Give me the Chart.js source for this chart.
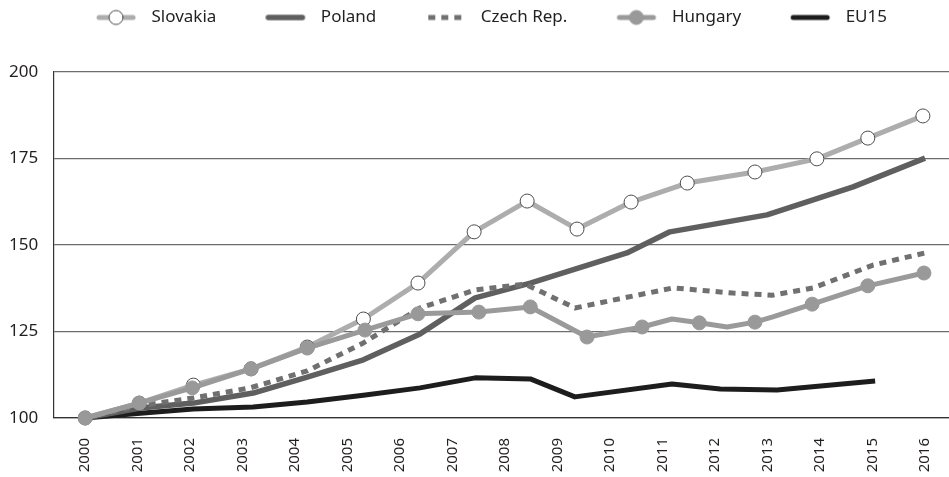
<!DOCTYPE html>
<html lang="en">
<head>
    <meta charset="UTF-8">
    <title>Slovakia, Poland, Czech Rep., Hungary, EU15 (2000 = 100)</title>
    <script src="https://cdn.jsdelivr.net/npm/chart.js"></script>
    <style>
        html, body { margin: 0; padding: 0; background: #fff; }
        .chart-box { width: 949px; height: 477px; }
    </style>
</head>
<body>
    <div class="chart-box">
        <canvas id="indexChart"></canvas>
    </div>

    <script>
        // Axis labels
        const years = [2000, 2001, 2002, 2003, 2004, 2005, 2006, 2007, 2008,
                       2009, 2010, 2011, 2012, 2013, 2014, 2015, 2016];
        const yTicks = [100, 125, 150, 175, 200];

        // Series: x = position on the year axis, y = index (2000 = 100)
        const slovakiaX = [2000, 2001.03, 2002.06, 2003.16, 2004.23, 2005.3, 2006.34, 2007.41,
                           2008.42, 2009.37, 2010.4, 2011.47, 2012.76, 2013.94, 2014.91, 2015.96];
        const slovakiaY = [100, 104.3, 109.5, 114.2, 120.5, 128.6, 139, 153.8,
                           162.7, 154.6, 162.4, 167.9, 171.1, 174.9, 180.9, 187.3];

        const polandX = [2000, 2001.05, 2002.06, 2003.2, 2004.23, 2005.3, 2006.38, 2007.43,
                         2008.48, 2010.32, 2011.14, 2012.99, 2014.63, 2016];
        const polandY = [100, 102.9, 104.3, 107.2, 111.8, 116.8, 124.3, 134.7,
                         139, 147.7, 153.8, 158.7, 166.8, 175.1];

        const czechX = [2000, 2001.03, 2002.06, 2003.14, 2004.23, 2005.3, 2006.38, 2007.43,
                        2008.38, 2009.33, 2011.2, 2012.34, 2013.1, 2013.87, 2015.01, 2016];
        const czechY = [100, 103.5, 105.8, 108.7, 113.6, 121.7, 131.8, 137,
                        138.7, 131.8, 137.6, 136.1, 135.5, 137.6, 144.2, 147.7];

        const hungaryX = [2000, 2001.03, 2002.04, 2003.16, 2004.23, 2005.33, 2006.34, 2007.5,
                          2008.48, 2009.56, 2010.61, 2011.18, 2011.7, 2012.23, 2012.76, 2013.1,
                          2013.85, 2014.91, 2015.98];
        const hungaryY = [100, 104.3, 108.7, 114.2, 120.2, 125.4, 130.1, 130.6,
                          132.1, 123.4, 126.3, 128.6, 127.5, 126.3, 127.7, 129.2,
                          132.9, 138.2, 141.9];
        // which Hungary points carry a marker
        const hungaryMarked = [1, 1, 1, 1, 1, 1, 1, 1, 1, 1, 1, 0, 1, 0, 1, 0, 1, 1, 1];

        const eu15X = [2000, 2001.05, 2002.06, 2003.2, 2004.23, 2005.3, 2006.38, 2007.43,
                       2008.48, 2009.33, 2011.18, 2012.1, 2013.18, 2015.05];
        const eu15Y = [100, 101.4, 102.6, 103.2, 104.6, 106.6, 108.7, 111.6,
                       111.3, 106.1, 109.8, 108.4, 108.1, 110.7];

        const legendOrder = ['Slovakia', 'Poland', 'Czech Rep.', 'Hungary', 'EU15'];

        function toPoints(xs, ys) {
            return xs.map((x, i) => ({ x: x, y: ys[i] }));
        }

        const textColor = '#231f20';
        const gridColor = '#6d6d6d';

        // order: lower number is drawn on top
        const datasets = [
            {
                label: 'Slovakia',
                data: toPoints(slovakiaX, slovakiaY),
                borderColor: '#adadad',
                borderWidth: 5,
                pointRadius: 7,
                pointBackgroundColor: '#ffffff',
                pointBorderColor: '#4d4d4d',
                pointBorderWidth: 1,
                legendMarker: true,
                order: 1
            },
            {
                label: 'Poland',
                data: toPoints(polandX, polandY),
                borderColor: '#5f5f5f',
                borderWidth: 5.5,
                pointRadius: 0,
                order: 3
            },
            {
                label: 'Czech Rep.',
                data: toPoints(czechX, czechY),
                borderColor: '#707070',
                borderWidth: 5,
                borderDash: [7, 6],
                pointRadius: 0,
                order: 2
            },
            {
                label: 'Hungary',
                data: toPoints(hungaryX, hungaryY),
                borderColor: '#9a9a9a',
                borderWidth: 5,
                pointRadius: hungaryMarked.map(m => m ? 7 : 0),
                pointBackgroundColor: '#999999',
                pointBorderColor: '#999999',
                pointBorderWidth: 1,
                legendMarker: true,
                order: 0
            },
            {
                label: 'EU15',
                data: toPoints(eu15X, eu15Y),
                borderColor: '#1d1d1d',
                borderWidth: 5,
                pointRadius: 0,
                order: 4
            }
        ];

        // Legend symbol: short line (solid or dashed), with a circle for marked series
        function legendSymbol(ds) {
            const c = document.createElement('canvas');
            c.width = 87;
            c.height = 18;
            const g = c.getContext('2d');
            const x0 = 40, x1 = 80, cy = 9;
            g.strokeStyle = ds.borderColor;
            g.lineWidth = ds.borderWidth;
            if (ds.borderDash) {
                g.setLineDash(ds.borderDash);
                g.lineCap = 'butt';
            } else {
                g.lineCap = 'round';
            }
            g.beginPath(); g.moveTo(x0 + 3, cy); g.lineTo(x1 - 3, cy); g.stroke();
            if (ds.legendMarker) {
                g.setLineDash([]);
                g.beginPath();
                g.arc((x0 + x1) / 2, cy, 7, 0, Math.PI * 2);
                g.fillStyle = ds.pointBackgroundColor;
                g.fill();
                g.lineWidth = 1;
                g.strokeStyle = ds.pointBorderColor;
                g.stroke();
            }
            return c;
        }

        // extra room between legend and plot
        const legendGap = {
            id: 'legendGap',
            beforeInit(chart) {
                const fit = chart.legend.fit;
                chart.legend.fit = function () {
                    fit.bind(chart.legend)();
                    this.height += 36;
                };
            }
        };

        const ctx = document.getElementById('indexChart').getContext('2d');
        new Chart(ctx, {
            type: 'line',
            data: { datasets: datasets },
            plugins: [legendGap],
            options: {
                responsive: true,
                maintainAspectRatio: false,
                animation: false,
                events: [],
                layout: { autoPadding: false, padding: { top: 0, left: -6, right: 0, bottom: 4.7 } },
                elements: { line: { tension: 0, borderJoinStyle: 'round', fill: false } },
                datasets: { line: { clip: false } },
                plugins: {
                    tooltip: { enabled: false },
                    legend: {
                        position: 'top',
                        labels: {
                            usePointStyle: true,
                            pointStyleWidth: 87,
                            boxHeight: 17,
                            padding: 9,
                            color: textColor,
                            font: { family: "'Noto Sans', sans-serif", size: 17 },
                            generateLabels(chart) {
                                return legendOrder.map(name => {
                                    const i = chart.data.datasets.findIndex(d => d.label === name);
                                    return {
                                        text: name,
                                        datasetIndex: i,
                                        pointStyle: legendSymbol(chart.data.datasets[i]),
                                        fillStyle: 'rgba(0,0,0,0)',
                                        strokeStyle: 'rgba(0,0,0,0)',
                                        lineWidth: 0,
                                        hidden: false,
                                        fontColor: textColor
                                    };
                                });
                            }
                        }
                    }
                },
                scales: {
                    x: {
                        type: 'linear',
                        min: 1999.39,
                        max: 2016.457,
                        afterBuildTicks(scale) {
                            scale.ticks = years.map(v => ({ value: v }));
                        },
                        // invisible tick marks only push the labels down
                        grid: { display: true, drawOnChartArea: false, drawTicks: true, tickLength: 20, color: 'rgba(0,0,0,0)' },
                        border: { display: true, color: '#333333', width: 1.2 },
                        ticks: {
                            autoSkip: false,
                            minRotation: 90,
                            maxRotation: 90,
                            padding: 0,
                            color: textColor,
                            font: { family: "'Noto Sans', sans-serif", size: 15 },
                            callback: v => String(v)
                        }
                    },
                    y: {
                        min: 100,
                        max: 200,
                        afterBuildTicks(scale) {
                            scale.ticks = yTicks.map(v => ({ value: v }));
                        },
                        grid: { color: gridColor, lineWidth: 1.2, drawTicks: false },
                        border: { display: true, color: '#333333', width: 1.2 },
                        ticks: {
                            padding: 15,
                            color: textColor,
                            font: { family: "'Noto Sans', sans-serif", size: 17 }
                        }
                    }
                }
            }
        });
    </script>
</body>
</html>
